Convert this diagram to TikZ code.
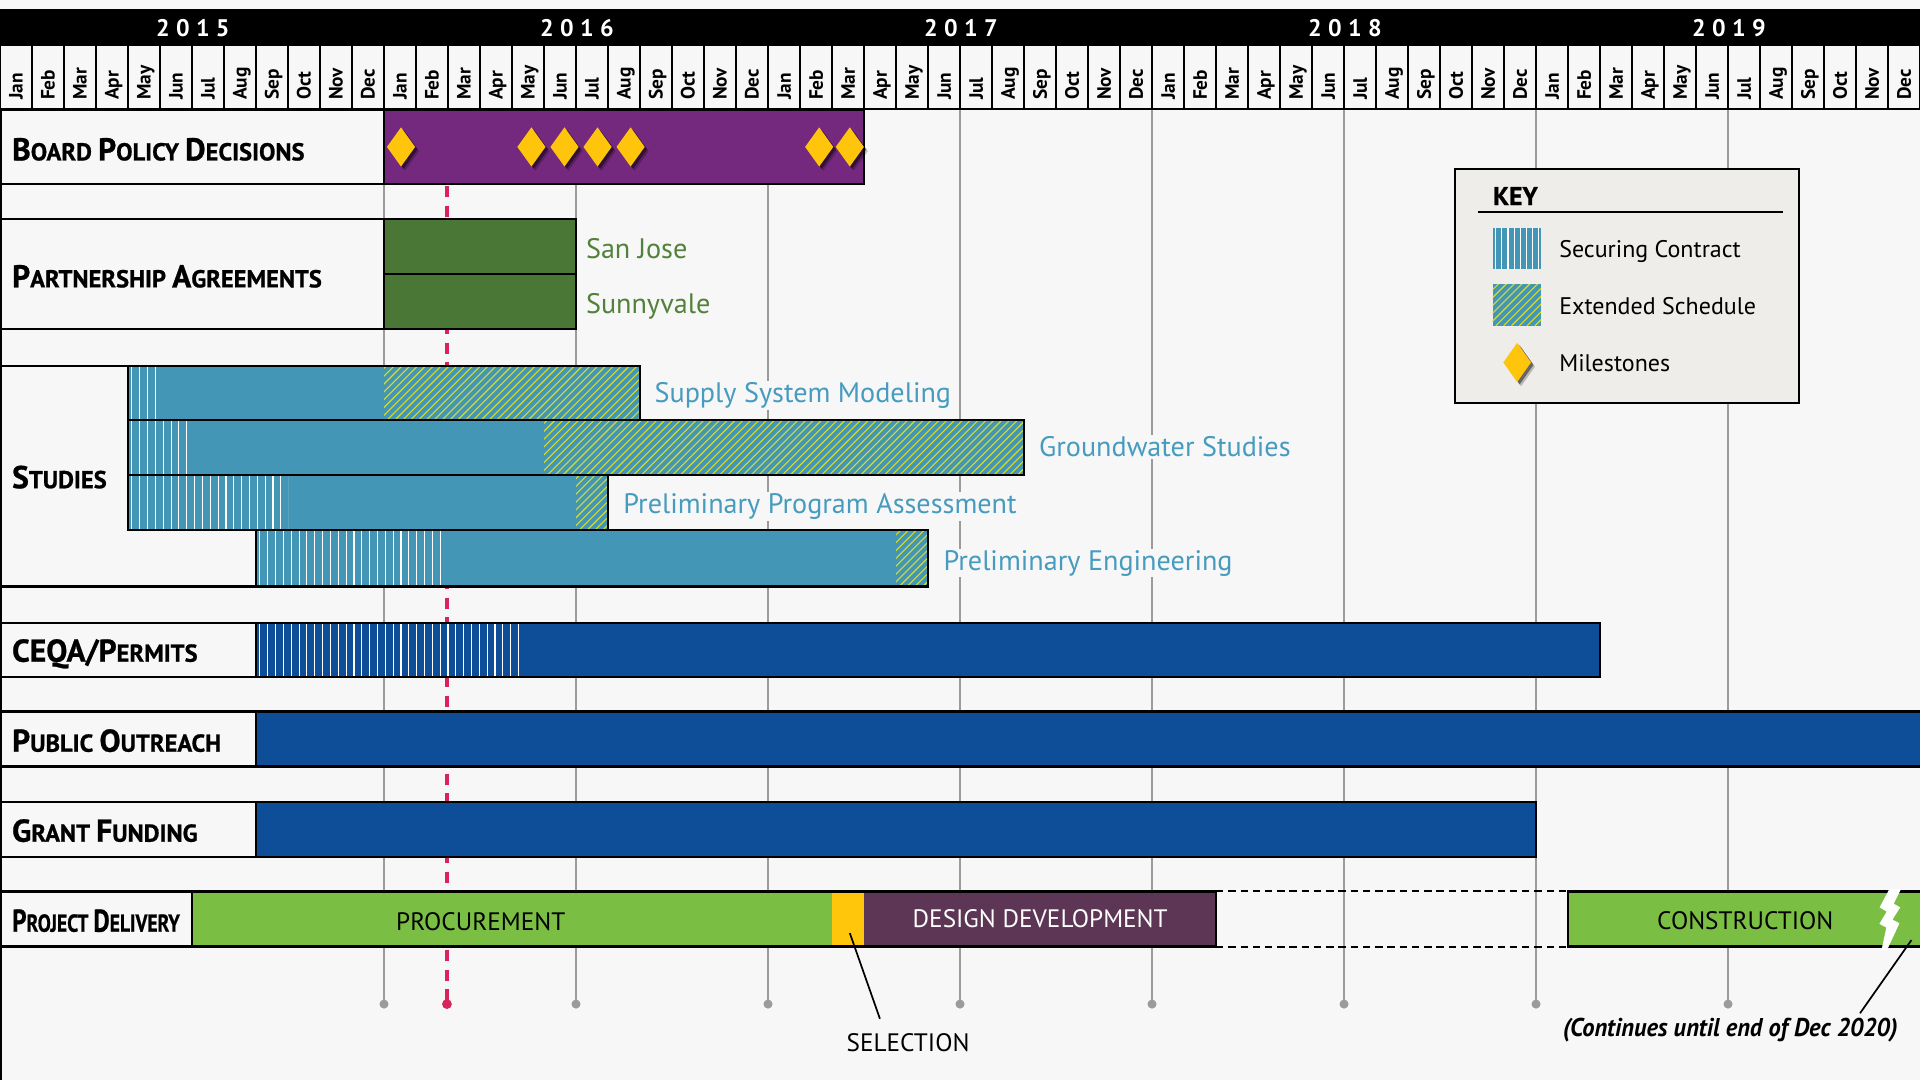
\documentclass[tikz,border=0pt]{standalone}
\usepackage{fontspec}
\setmainfont{PT Sans}
\newfontfamily\condfont[FakeStretch=0.95]{PT Sans}
\newfontfamily\rowfont[BoldFeatures={FakeBold=0.8}]{PT Sans}
\usetikzlibrary{calc}
\definecolor{bgc}{HTML}{F7F7F7}
\definecolor{gridc}{HTML}{9B9B9B}
\definecolor{boardc}{HTML}{74287E}
\definecolor{diamc}{HTML}{FFC40C}
\definecolor{pgreen}{HTML}{4A7636}
\definecolor{pgreentxt}{HTML}{52813A}
\definecolor{tealc}{HTML}{4396B5}
\definecolor{tealtxt}{HTML}{469BBF}
\definecolor{hatchc}{HTML}{DCDC1E}
\definecolor{dblue}{HTML}{0E4E98}
\definecolor{lgreen}{HTML}{7ABF43}
\definecolor{selc}{HTML}{FFC60B}
\definecolor{ddc}{HTML}{5C3654}
\definecolor{redc}{HTML}{D7245B}
\definecolor{keyc}{HTML}{EEEDEA}
\newcommand\BS[2]{{\fontsize{12.9}{14}\selectfont #1}{\fontsize{10}{12}\selectfont #2}}
\newcommand\yr[4]{#1\hspace{2.6pt}#2\hspace{2.6pt}#3\hspace{2.6pt}#4}
\newcommand\hatchbox[4]{%
  \begin{scope}
    \clip (#1,#2) rectangle (#3,#4);
    \pgfmathtruncatemacro\myhn{(#3-#1+60)/6.4}
    \foreach \i in {0,...,\myhn}
      \draw[hatchline] ({#1-55+\i*6.4},#4) -- ++(56,-56);
  \end{scope}}
\newcommand\stripebox[5]{%
  \begin{scope}
    \clip (#1,#2) rectangle (#3,#4);
    \pgfmathtruncatemacro\mysn{(#3-#1)/#5}
    \foreach \i in {0,...,\mysn}
      \draw[stripeline] ({#1+#5/2+\i*#5},#2) -- ({#1+#5/2+\i*#5},#4);
  \end{scope}}
\begin{document}
\begin{tikzpicture}[x=0.5pt,y=-0.5pt,
  bord/.style={draw=black,line width=0.9pt},
  hatchline/.style={draw=hatchc,line width=0.45pt},
  stripeline/.style={draw=white,line width=0.45pt},
  gridl/.style={draw=gridc,line width=0.6pt},
  monthlbl/.style={rotate=90,anchor=base west,inner sep=0pt,font=\bfseries\fontsize{7.9}{9}\selectfont},
  yearlbl/.style={anchor=base,inner sep=0pt,text=white,font=\bfseries\fontsize{9.8}{11}\selectfont},
  rowlabel/.style={anchor=base west,inner sep=0pt,font=\rowfont\bfseries\fontsize{10}{12}\selectfont},
  barlabel/.style={anchor=base west,inner sep=0.6pt,fill=bgc,font=\fontsize{11.5}{13}\selectfont},
  keytext/.style={anchor=base west,inner sep=0pt,font=\fontsize{9.8}{11}\selectfont},
  phase/.style={anchor=base,inner sep=0pt,font=\fontsize{10.3}{12}\selectfont},
  diam/.style={fill=diamc},
  ]
\useasboundingbox (0,0) rectangle (1568,882);
\fill[bgc] (0,0) rectangle (1568,882);

% grid lines and dots
\foreach \gx in {313.6,470.4,627.2,784,940.8,1097.6,1254.4,1411.2} {
  \draw[gridl] (\gx,89) -- (\gx,820);
  \fill[gridc] (\gx,820) circle[radius=3.7];
}
% today line
\draw[redc,line width=1.3pt,dash pattern=on 4.5pt off 3.5pt] (365,152) -- (365,820);
\fill[redc] (365,820) circle[radius=4];

% left border
\draw[black,line width=1pt] (1,89) -- (1,882);

% header
\fill[black] (0,7) rectangle (1568,89.6);
\foreach \m in {0,...,59}
  \fill[bgc] ({\m*26.13333+0.6},37.8) rectangle ({(\m+1)*26.13333-0.6},88.6);
\node[yearlbl] (y2015) at (157.5,30) {\yr2015};
\node[yearlbl] (y2016) at (471.1,30) {\yr2016};
\node[yearlbl] (y2017) at (784.7,30) {\yr2017};
\node[yearlbl] (y2018) at (1098.3,30) {\yr2018};
\node[yearlbl] (y2019) at (1411.9,30) {\yr2019};
\foreach \yy in {0,...,4} {
  \foreach \mn [count=\k from 0] in {Jan,Feb,Mar,Apr,May,Jun,Jul,Aug,Sep,Oct,Nov,Dec} {
    \node[monthlbl] (mon-\yy-\k) at ({(\yy*12+\k)*26.13333+13.07+5.5},82) {\mn};
  }
}

% ---- Board policy decisions
\draw[bord,fill=bgc] (1,90) rectangle (313.6,150);
\draw[bord,fill=boardc] (313.6,90) rectangle (705.6,150);
\foreach \dx in {327.5,434,461,488,515,669,694} {
  \fill[black,opacity=0.22] ({\dx+3.2},107.5) -- ({\dx+14.7},123.5) -- ({\dx+3.2},139.5) -- ({\dx-8.3},123.5) -- cycle;
  \fill[black,opacity=0.45] ({\dx+2},106) -- ({\dx+13.5},122) -- ({\dx+2},138) -- ({\dx-9.5},122) -- cycle;
  \fill[diam] (\dx,104) -- ({\dx+11.5},120) -- (\dx,136) -- ({\dx-11.5},120) -- cycle;
}
\node[rowlabel] (lbl-board) at (9.5,131) {\BS{B}{OARD} \BS{P}{OLICY} \BS{D}{ECISIONS}};

% ---- Partnership agreements
\draw[bord,fill=bgc] (1,179) rectangle (313.6,269);
\draw[bord,fill=pgreen] (313.6,179) rectangle (470.4,224);
\draw[bord,fill=pgreen] (313.6,224) rectangle (470.4,269);
\node[rowlabel] (lbl-partner) at (9.5,234.7) {\BS{P}{ARTNERSHIP} \BS{A}{GREEMENTS}};
\node[barlabel,text=pgreentxt] (sanjose) at (477,211) {San Jose};
\node[barlabel,text=pgreentxt] (sunnyvale) at (477,256) {Sunnyvale};

% ---- Studies
\draw[bord,fill=bgc] (1,299) -- (104.53,299) -- (104.53,433) -- (209.07,433) -- (209.07,479) -- (1,479) -- cycle;
% supply system modeling
\fill[tealc] (104.53,299) rectangle (522.67,343);
\stripebox{104.53}{299}{130.67}{343}{6.4}
\hatchbox{313.6}{299}{522.67}{343}
\draw[bord] (104.53,299) rectangle (522.67,343);
% groundwater
\fill[tealc] (104.53,343) rectangle (836.27,388);
\stripebox{104.53}{343}{156.8}{388}{6.4}
\hatchbox{444.27}{343}{836.27}{388}
\draw[bord] (104.53,343) rectangle (836.27,388);
% preliminary program assessment
\fill[tealc] (104.53,388) rectangle (496.53,433);
\stripebox{104.53}{388}{235.2}{433}{6.4}
\hatchbox{470.4}{388}{496.53}{433}
\draw[bord] (104.53,388) rectangle (496.53,433);
% preliminary engineering
\fill[tealc] (209.07,433) rectangle (757.87,479);
\stripebox{209.07}{433}{364}{479}{6.4}
\hatchbox{731.73}{433}{757.87}{479}
\draw[bord] (209.07,433) rectangle (757.87,479);
\node[rowlabel] (lbl-studies) at (9.5,398.7) {\BS{S}{TUDIES}};
\node[barlabel,text=tealtxt] (ssm) at (533,328.8) {Supply System Modeling};
\node[barlabel,text=tealtxt] (gws) at (847,373) {Groundwater Studies};
\node[barlabel,text=tealtxt] (ppa) at (507.5,419) {Preliminary Program Assessment};
\node[barlabel,text=tealtxt] (pe) at (769,465.5) {Preliminary Engineering};

% ---- CEQA / permits
\draw[bord,fill=bgc] (1,509) rectangle (209.07,553);
\fill[dblue] (209.07,509) rectangle (1306.67,553);
\stripebox{209.07}{509}{427}{553}{6.4}
\draw[bord] (209.07,509) rectangle (1306.67,553);
\node[rowlabel] (lbl-ceqa) at (9.5,540.4) {{\fontsize{12.9}{14}\selectfont CEQA/}\BS{P}{ERMITS}};

% ---- Public outreach
\draw[bord,fill=bgc] (1,581) rectangle (209.07,626);
\draw[bord,fill=dblue] (209.07,581) rectangle (1570,626);
\node[rowlabel] (lbl-public) at (9.5,613.9) {\BS{P}{UBLIC} \BS{O}{UTREACH}};

% ---- Grant funding
\draw[bord,fill=bgc] (1,655) rectangle (209.07,700);
\draw[bord,fill=dblue] (209.07,655) rectangle (1254.4,700);
\node[rowlabel] (lbl-grant) at (9.5,687.4) {\BS{G}{RANT} \BS{F}{UNDING}};

% ---- Project delivery
\draw[bord,fill=bgc] (1,728) rectangle (156.8,773);
\fill[lgreen] (156.8,728) rectangle (679.47,773);
\fill[selc] (679.47,728) rectangle (705.6,773);
\fill[ddc] (705.6,728) rectangle (993.07,773);
\draw[bord] (156.8,728) rectangle (993.07,773);
\draw[black,line width=0.8pt,dash pattern=on 3pt off 2pt] (993.07,728) -- (1280.53,728) (993.07,773) -- (1280.53,773);
\draw[bord,fill=lgreen] (1280.53,728) rectangle (1570,773);
\fill[white] (1543,726) -- (1552.5,726) -- (1546.5,738) -- (1551.8,741) -- (1545.5,751) -- (1551.2,754) -- (1541,776) -- (1536.5,776) -- (1540.5,757.5) -- (1534.8,754.5) -- (1540.8,744.5) -- (1535,741) -- cycle;
\node[rowlabel] (lbl-project) at (9.5,760.9) {\scalebox{0.8}[1]{\BS{P}{ROJECT} \BS{D}{ELIVERY}}};
\node[phase] (procure) at (392.6,759.5) {PROCUREMENT};
\node[phase,text=white] (design) at (849.5,757.6) {DESIGN DEVELOPMENT};
\node[phase] (construct) at (1425.3,758.9) {CONSTRUCTION};

% ---- annotations
\coordinate (selpt) at (694,762);
\coordinate (selend) at (718.6,832);
\node[phase] (seltxt) at (741.6,859) {SELECTION};
\draw[line width=0.7pt] (selpt) -- (selend);
\coordinate (contpt) at (1561,767.7);
\coordinate (contend) at (1519,827.5);
\node[anchor=base,inner sep=0pt,font=\condfont\bfseries\itshape\fontsize{10.5}{12}\selectfont] (conttxt) at (1413,846.6) {(Continues until end of Dec 2020)};
\draw[line width=0.7pt] (contpt) -- (contend);

% ---- key
\draw[bord,fill=keyc] (1188,138) rectangle (1469,329);
\node[anchor=base west,inner sep=0pt,font=\rowfont\bfseries\fontsize{10.5}{12}\selectfont] (keytitle) at (1219,167.5) {KEY};
\draw[line width=0.7pt] (1207,173) -- (1456,173);
\fill[tealc] (1219,186) rectangle (1258.5,220);
\stripebox{1219}{186}{1258.5}{220}{5}
\fill[tealc] (1219,232) rectangle (1258.5,266);
\hatchbox{1219}{232}{1258.5}{266}
\fill[black,opacity=0.22] (1242.2,283.5) -- (1253.5,299.5) -- (1242.2,315.5) -- (1230.9,299.5) -- cycle;
\fill[black,opacity=0.45] (1241,282) -- (1252.3,298) -- (1241,314) -- (1229.7,298) -- cycle;
\fill[diam] (1239,280) -- (1250.3,296) -- (1239,312) -- (1227.7,296) -- cycle;
\node[keytext] (k1) at (1273,210) {Securing Contract};
\node[keytext] (k2) at (1273,256.5) {Extended Schedule};
\node[keytext] (k3) at (1273,303.7) {Milestones};
\end{tikzpicture}
\end{document}
